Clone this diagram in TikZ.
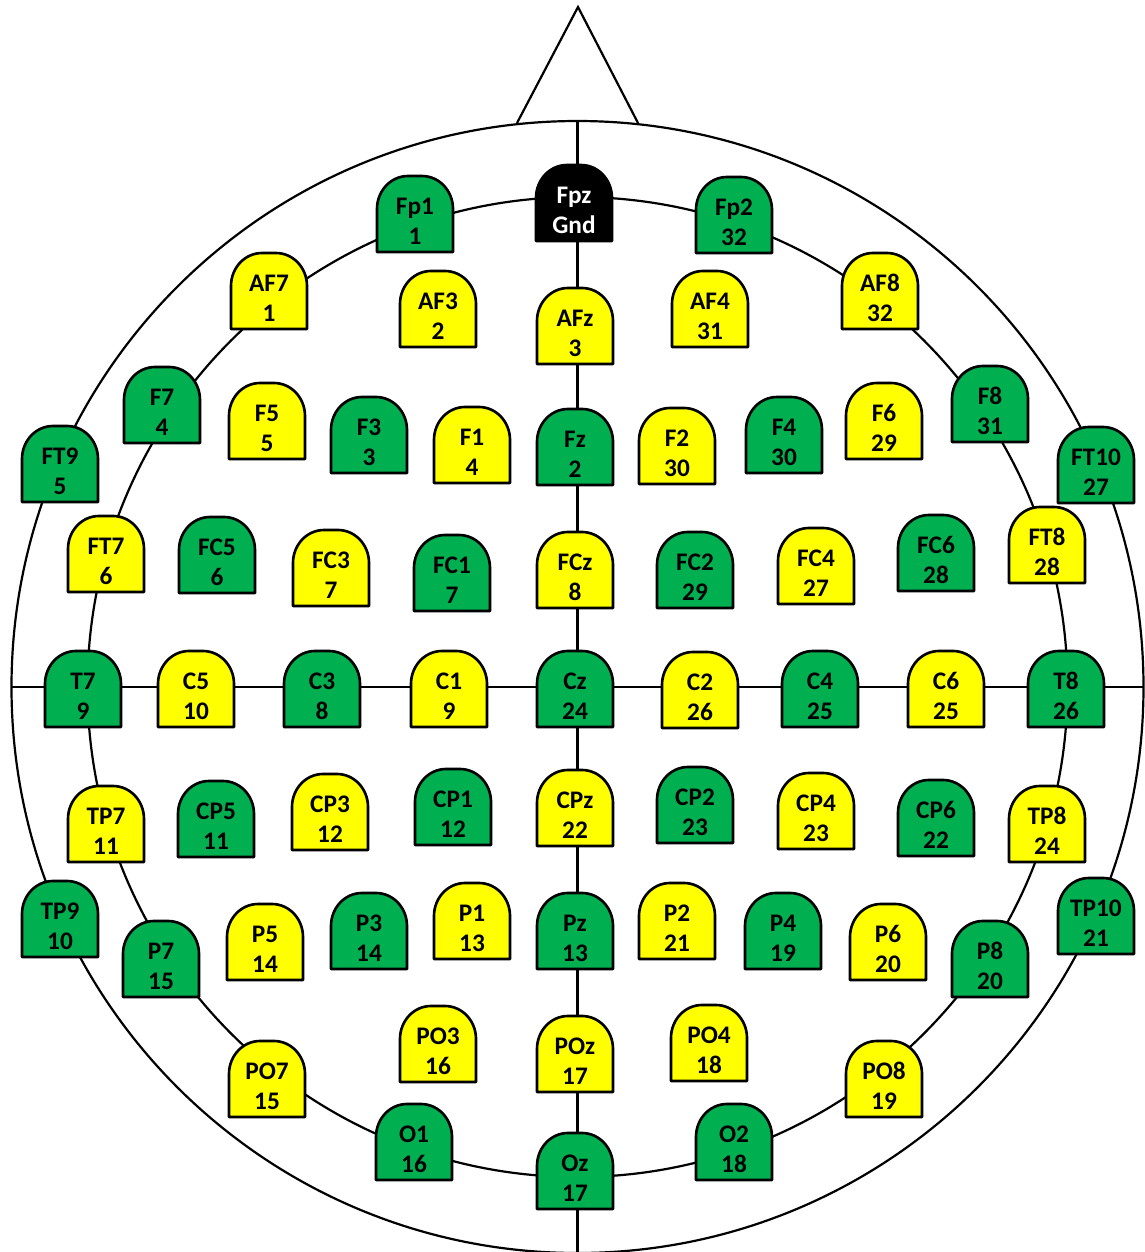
\documentclass[tikz,border=0pt]{standalone}
\usepackage{fontspec}
\setmainfont{Carlito}
\definecolor{egreen}{HTML}{00B050}
\definecolor{eyellow}{HTML}{FFFF00}
\tikzset{
  headline/.style={line width=1.25pt, draw=black},
  elecbox/.style={line width=1.5pt, draw=black, line join=round},
  elabel/.style={font=\fontsize{14.4}{17}\selectfont\bfseries, align=center, inner sep=0pt},
}
% #1 name, #2 x, #3 y, #4 fill, #5 text colour, #6 line 1, #7 line 2
\newcommand{\elec}[7]{%
  \filldraw[elecbox, fill=#4] (#2-38,#3+38) -- (#2-38,#3-5)
    arc[start angle=180, end angle=270, x radius=31, y radius=33] -- (#2+7,#3-38)
    arc[start angle=270, end angle=360, x radius=31, y radius=33] -- (#2+38,#3+38) -- cycle;
  \node[elabel, text=#5] (#1) at (#2,#3+7) {#6\\#7};
}
\begin{document}
\begin{tikzpicture}[x=0.02cm, y=-0.02cm]
\useasboundingbox (0,0) rectangle (1144,1252);
\coordinate (c) at (577.5,687);
\coordinate (noseL) at (517,123);
\coordinate (noseT) at (578,7);
\coordinate (noseR) at (638,123);
\coordinate (hl) at (11.5,687);
\coordinate (hr) at (1143.5,687);
\coordinate (vt) at (577.5,121);
\coordinate (vb) at (577.5,1254);
\draw[headline] (c) circle[radius=566];
\draw[headline, line join=miter] (noseL) -- (noseT) -- (noseR);
\draw[headline] (hl) -- (hr);
\draw[headline] (vt) -- (vb);
\draw[headline] (c) circle[radius=490];

\elec{Fp1}{415}{214}{egreen}{black}{Fp1}{1}
\elec{Fpz}{574}{203}{black}{white}{Fpz}{Gnd}
\elec{Fp2}{734}{215}{egreen}{black}{Fp2}{32}
\elec{AF7}{269}{291}{eyellow}{black}{AF7}{1}
\elec{AF3}{438}{309}{eyellow}{black}{AF3}{2}
\elec{AFz}{575}{326}{eyellow}{black}{AFz}{3}
\elec{AF4}{710}{309}{eyellow}{black}{AF4}{31}
\elec{AF8}{880}{291}{eyellow}{black}{AF8}{32}
\elec{F7}{162}{405}{egreen}{black}{F7}{4}
\elec{F5}{267}{421}{eyellow}{black}{F5}{5}
\elec{F3}{369}{435}{egreen}{black}{F3}{3}
\elec{F1}{472}{445}{eyellow}{black}{F1}{4}
\elec{Fz}{575}{447}{egreen}{black}{Fz}{2}
\elec{F2}{677}{446}{eyellow}{black}{F2}{30}
\elec{F4}{784}{435}{egreen}{black}{F4}{30}
\elec{F6}{884}{421}{eyellow}{black}{F6}{29}
\elec{F8}{990}{404}{egreen}{black}{F8}{31}
\elec{FT9}{60}{464}{egreen}{black}{FT9}{5}
\elec{FT10}{1096}{465}{egreen}{black}{FT10}{27}
\elec{FT7}{106}{554}{eyellow}{black}{FT7}{6}
\elec{FC5}{217}{555}{egreen}{black}{FC5}{6}
\elec{FC3}{331}{568}{eyellow}{black}{FC3}{7}
\elec{FC1}{452}{573}{egreen}{black}{FC1}{7}
\elec{FCz}{575}{570}{eyellow}{black}{FCz}{8}
\elec{FC2}{695}{570}{egreen}{black}{FC2}{29}
\elec{FC4}{816}{566}{eyellow}{black}{FC4}{27}
\elec{FC6}{936}{553}{egreen}{black}{FC6}{28}
\elec{FT8}{1047}{545}{eyellow}{black}{FT8}{28}
\elec{T7}{83}{689}{egreen}{black}{T7}{9}
\elec{C5}{196}{689}{eyellow}{black}{C5}{10}
\elec{C3}{322}{689}{egreen}{black}{C3}{8}
\elec{C1}{449}{689}{eyellow}{black}{C1}{9}
\elec{Cz}{575}{689}{egreen}{black}{Cz}{24}
\elec{C2}{700}{690}{eyellow}{black}{C2}{26}
\elec{C4}{820}{689}{egreen}{black}{C4}{25}
\elec{C6}{946}{689}{eyellow}{black}{C6}{25}
\elec{T8}{1066}{689}{egreen}{black}{T8}{26}
\elec{TP7}{106}{824}{eyellow}{black}{TP7}{11}
\elec{CP5}{216}{819}{egreen}{black}{CP5}{11}
\elec{CP3}{330}{812}{eyellow}{black}{CP3}{12}
\elec{CP1}{453}{807}{egreen}{black}{CP1}{12}
\elec{CPz}{575}{808}{eyellow}{black}{CPz}{22}
\elec{CP2}{695}{805}{egreen}{black}{CP2}{23}
\elec{CP4}{816}{811}{eyellow}{black}{CP4}{23}
\elec{CP6}{936}{818}{egreen}{black}{CP6}{22}
\elec{TP8}{1047}{824}{eyellow}{black}{TP8}{24}
\elec{TP9}{60}{919}{egreen}{black}{TP9}{10}
\elec{TP10}{1096}{916}{egreen}{black}{TP10}{21}
\elec{P7}{161}{959}{egreen}{black}{P7}{15}
\elec{P5}{265}{942}{eyellow}{black}{P5}{14}
\elec{P3}{369}{931}{egreen}{black}{P3}{14}
\elec{P1}{472}{921}{eyellow}{black}{P1}{13}
\elec{Pz}{575}{931}{egreen}{black}{Pz}{13}
\elec{P2}{677}{921}{eyellow}{black}{P2}{21}
\elec{P4}{783}{931}{egreen}{black}{P4}{19}
\elec{P6}{888}{942}{eyellow}{black}{P6}{20}
\elec{P8}{990}{959}{egreen}{black}{P8}{20}
\elec{PO7}{267}{1079}{eyellow}{black}{PO7}{15}
\elec{PO3}{438}{1044}{eyellow}{black}{PO3}{16}
\elec{POz}{575}{1054}{eyellow}{black}{POz}{17}
\elec{PO4}{709}{1043}{eyellow}{black}{PO4}{18}
\elec{PO8}{884}{1079}{eyellow}{black}{PO8}{19}
\elec{O1}{414}{1142}{egreen}{black}{O1}{16}
\elec{Oz}{575}{1171}{egreen}{black}{Oz}{17}
\elec{O2}{734}{1142}{egreen}{black}{O2}{18}
\end{tikzpicture}
\end{document}
